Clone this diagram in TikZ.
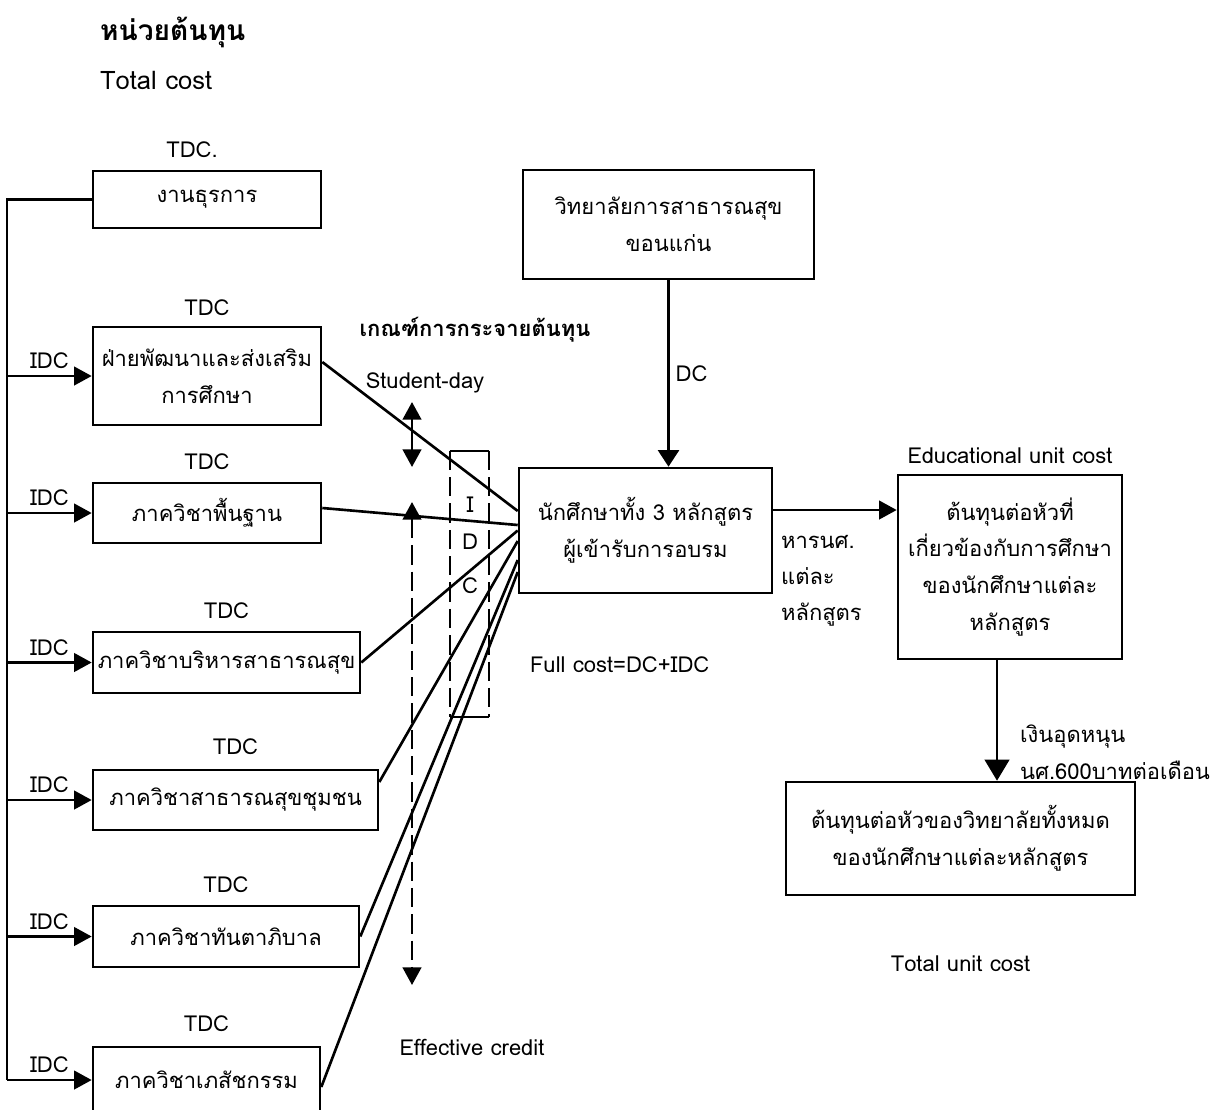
\documentclass[tikz,border=0pt]{standalone}
\usepackage{fontspec}
\setmainfont[Script=Thai]{Loma}
\usetikzlibrary{arrows.meta,positioning}

\begin{document}
\begin{tikzpicture}[x=0.02cm,y=-0.02cm,line width=1.5pt,auto,
                    >={Triangle[length=10pt,width=10.5pt]},
                    font=\fontsize{12.5}{21}\selectfont,
                    box/.style={draw,align=center,inner sep=2pt},
                    lbl/.style={inner sep=1pt,align=center},
                    bigtip/.style={-{Triangle[length=12pt,width=14pt]}},
                    longdash/.style={dash pattern=on 11pt off 4pt}]
%  \tikzstyle{box}=[draw,thick]
  \useasboundingbox (0,0) rectangle (1212,1109);

  \node[anchor=west,font=\fontsize{16}{20}\selectfont\bfseries] (title) at (93,32) {หน่วยต้นทุน};
  \node[anchor=west,font=\fontsize{14.5}{18}\selectfont] (titleen) at (93,80) {Total cost};

  \node[box,minimum width=4.56cm,minimum height=1.14cm] (adm)   at (207,199.5) {งานธุรการ};
  \node[box,minimum width=4.56cm,minimum height=1.96cm] (dev)   at (207,376)   {ฝ่ายพัฒนาและส่งเสริม\\การศึกษา};
  \node[box,minimum width=4.56cm,minimum height=1.2cm]  (basic) at (207,513)   {ภาควิชาพื้นฐาน};
  \node[box,minimum width=5.34cm,minimum height=1.22cm] (admin) at (226.5,662.5) {ภาควิชาบริหารสาธารณสุข};
  \node[box,minimum width=5.7cm,minimum height=1.2cm]   (comm)  at (235.5,800) {ภาควิชาสาธารณสุขชุมชน};
  \node[box,minimum width=5.32cm,minimum height=1.22cm] (dent)  at (226,936.5) {ภาควิชาทันตาภิบาล};
  \node[box,minimum width=4.54cm,minimum height=1.32cm] (pharm) at (206.5,1080) {ภาควิชาเภสัชกรรม};

  \node[lbl,above=5pt of adm,xshift=-0.3cm] {TDC.};
  \node[lbl,above=4pt of dev]   {TDC};
  \node[lbl,above=5pt of basic] {TDC};
  \node[lbl,above=5pt of admin] {TDC};
  \node[lbl,above=6pt of comm]  {TDC};
  \node[lbl,above=5pt of dent]  {TDC};
  \node[lbl,above=6pt of pharm] {TDC};

  \coordinate (bus) at (7,199.5);
  \draw (adm.west) -- (bus) -- (bus |- pharm.west);
  \path[->] (bus |- dev.west)   edge node {IDC} (dev.west)
            (bus |- basic.west) edge node {IDC} (basic.west)
            (bus |- admin.west) edge node {IDC} (admin.west)
            (bus |- comm.west)  edge node {IDC} (comm.west)
            (bus |- dent.west)  edge node {IDC} (dent.west)
            (bus |- pharm.west) edge node {IDC} (pharm.west);

  \node[box,minimum width=5.82cm,minimum height=2.18cm] (coll)  at (668.5,224.5) {วิทยาลัยการสาธารณสุข\\ขอนแก่น};
  \node[box,minimum width=5.06cm,minimum height=2.5cm]  (stud)  at (645.5,530.5) {นักศึกษาทั้ง 3 หลักสูตร\\ผู้เข้ารับการอบรม};
  \node[box,minimum width=4.48cm,minimum height=3.68cm] (edu)   at (1010,567) {ต้นทุนต่อหัวที่\\เกี่ยวข้องกับการศึกษา\\ของนักศึกษาแต่ละ\\หลักสูตร};
  \node[box,minimum width=6.98cm,minimum height=2.26cm] (total) at (960.5,838.5) {ต้นทุนต่อหัวของวิทยาลัยทั้งหมด\\ของนักศึกษาแต่ละหลักสูตร};

  \node[font=\fontsize{12.5}{21}\selectfont\bfseries] (crit) at (475,330) {เกณฑ์การกระจายต้นทุน};
  \node (sday) at (425,383) {Student-day};
  \node (ecr)  at (472,1047) {Effective credit};
  \node[minimum width=0.74cm,minimum height=5.28cm] (alloc) at (469.5,584) {};
  \draw[line width=1.2pt] (alloc.north west) -- (alloc.north east)
                          (alloc.south west) -- (alloc.south east);
  \draw[line width=1.2pt,longdash] (alloc.north west) -- (alloc.south west)
                                   (alloc.north east) -- (alloc.south east);
  \node (li) at (470,505) {I};
  \node (ld) at (470,542) {D};
  \node (lc) at (470,586) {C};

  \coordinate (sd1) at (412,402);
  \coordinate (sd2) at (412,467);
  \coordinate (ec1) at (412,502);
  \coordinate (ec2) at (412,985);
  \draw[<->] (sd1) -- (sd2);
  \draw[<->,longdash] (ec1) -- (ec2);

  \draw ([yshift=0.28cm]dev.east)   -- ([yshift=0.39cm]stud.west);
  \draw ([yshift=0.1cm]basic.east)  -- ([yshift=0.11cm]stud.west);
  \draw (admin.east)                -- (stud.west);
  \draw ([yshift=0.36cm]comm.east)  -- ([yshift=-0.21cm]stud.west);
  \draw (dent.east)                 -- ([yshift=-0.59cm]stud.west);
  \draw ([yshift=-0.14cm]pharm.east) -- ([yshift=-0.83cm]stud.west);

  \draw[-{Triangle[length=9.5pt,width=12pt]}] (coll.south) -- node {DC} (coll.south |- stud.north);
  \coordinate (o1) at ([yshift=0.41cm]stud.east);
  \draw[->] (o1) -- (o1 -| edu.west);
  \node[lbl,align=left,anchor=west,font=\fontsize{12.5}{20.5}\selectfont] (div) at (778,581) {หารนศ.\\แต่ละ\\หลักสูตร};
  \node[anchor=west] (full) at (523,665) {Full cost=DC+IDC};

  \node[lbl,above=4pt of edu] (eduen) {Educational unit cost};
  \coordinate (o2) at ([xshift=-0.26cm]edu.south);
  \draw[bigtip] (o2) -- (o2 |- total.north);
  \node[lbl,align=left,anchor=west] (grant) at (1017,752) {เงินอุดหนุน\\นศ.600บาทต่อเดือน};
  \node[lbl,below=32pt of total] (totalen) {Total unit cost};
\end{tikzpicture}
\end{document}
